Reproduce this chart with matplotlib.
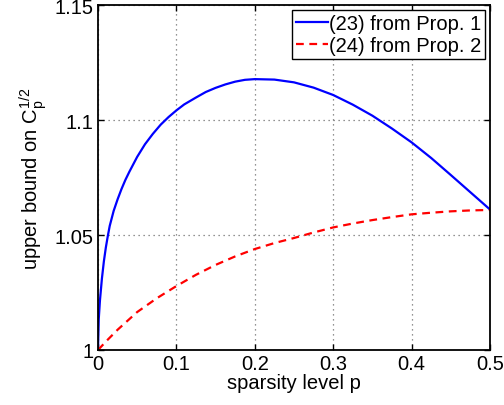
import matplotlib
matplotlib.use("Agg")
import matplotlib.pyplot as plt

plt.rcParams['font.family'] = ['Liberation Sans', 'DejaVu Sans']
plt.rcParams['mathtext.fontset'] = 'custom'
plt.rcParams['mathtext.rm'] = 'Liberation Sans'
plt.rcParams['mathtext.it'] = 'Liberation Sans'

# values
p_prop1 = [0, 0.001, 0.0025, 0.005, 0.0075, 0.01, 0.0125, 0.015, 0.02, 0.025, 0.03,
           0.035, 0.04, 0.05, 0.06, 0.07, 0.08, 0.09, 0.1, 0.11, 0.125, 0.1375,
           0.15, 0.1625, 0.175, 0.1875, 0.2, 0.225, 0.25, 0.275, 0.3, 0.325, 0.35,
           0.375, 0.4, 0.425, 0.45, 0.475, 0.5]
bound_prop1 = [1.0, 1.0135, 1.0215, 1.031, 1.0385, 1.0445, 1.0495, 1.054, 1.0605, 1.0655, 1.070,
               1.074, 1.0775, 1.084, 1.0895, 1.094, 1.098, 1.1013, 1.1042, 1.1068, 1.1098, 1.1122,
               1.114, 1.1155, 1.1167, 1.1175, 1.1178, 1.1176, 1.1164, 1.1141, 1.1109, 1.1067, 1.1019,
               1.0963, 1.0903, 1.0835, 1.0761, 1.0686, 1.0611]

p_prop2 = [0, 0.0125, 0.025, 0.05, 0.075, 0.1, 0.125, 0.15, 0.175, 0.2, 0.225,
           0.25, 0.275, 0.3, 0.325, 0.35, 0.375, 0.4, 0.425, 0.45, 0.475, 0.5]
bound_prop2 = [1.0, 1.0045, 1.0088, 1.0165, 1.0225, 1.0278, 1.0327, 1.0370, 1.0407, 1.0439, 1.0465,
               1.0487, 1.0511, 1.0533, 1.0550, 1.0565, 1.0578, 1.0590, 1.0597, 1.0603, 1.0607, 1.0609]

xticks = [0, 0.1, 0.2, 0.3, 0.4, 0.5]
yticks = [1, 1.05, 1.1, 1.15]
ytick_labels = ["1", "1.05", "1.1", "1.15"]

fig = plt.figure(figsize=(5.04, 4.06), dpi=100)
ax = fig.add_axes([0.1944, 0.1355, 0.7778, 0.8495])

ax.plot(p_prop1, bound_prop1, '-', color='#0000ff', linewidth=1.6, label='(23) from Prop. 1')
ax.plot(p_prop2, bound_prop2, '--', color='#ff0000', linewidth=1.6, dashes=(3.5, 2.5),
        label='(24) from Prop. 2')

ax.set_xlim(0, 0.5)
ax.set_ylim(1, 1.15)
ax.set_xticks(xticks)
ax.set_xticklabels([("%g" % t) for t in xticks])
ax.set_yticks(yticks)
ax.set_yticklabels(ytick_labels)
ax.tick_params(direction='in', top=True, right=True, labelsize=14.5, length=4, width=1, pad=3)
ax.grid(True, color='#707070', linewidth=0.9, dashes=(1, 3))
for s in ax.spines.values():
    s.set_linewidth(1.3)

ax.set_xlabel('sparsity level p', fontsize=14.5, labelpad=0)
ax.set_ylabel(r'upper bound on C$_\mathrm{p}^{\mathrm{1/2}}$', fontsize=14.5, labelpad=4)

leg = ax.legend(loc='upper right', fontsize=14.5, fancybox=False, framealpha=1,
                edgecolor='black', borderpad=0.2, handlelength=1.55, handletextpad=0.05,
                labelspacing=0.15, borderaxespad=0.25)
leg.get_frame().set_linewidth(1.0)

fig.savefig('out.png', dpi=100)
